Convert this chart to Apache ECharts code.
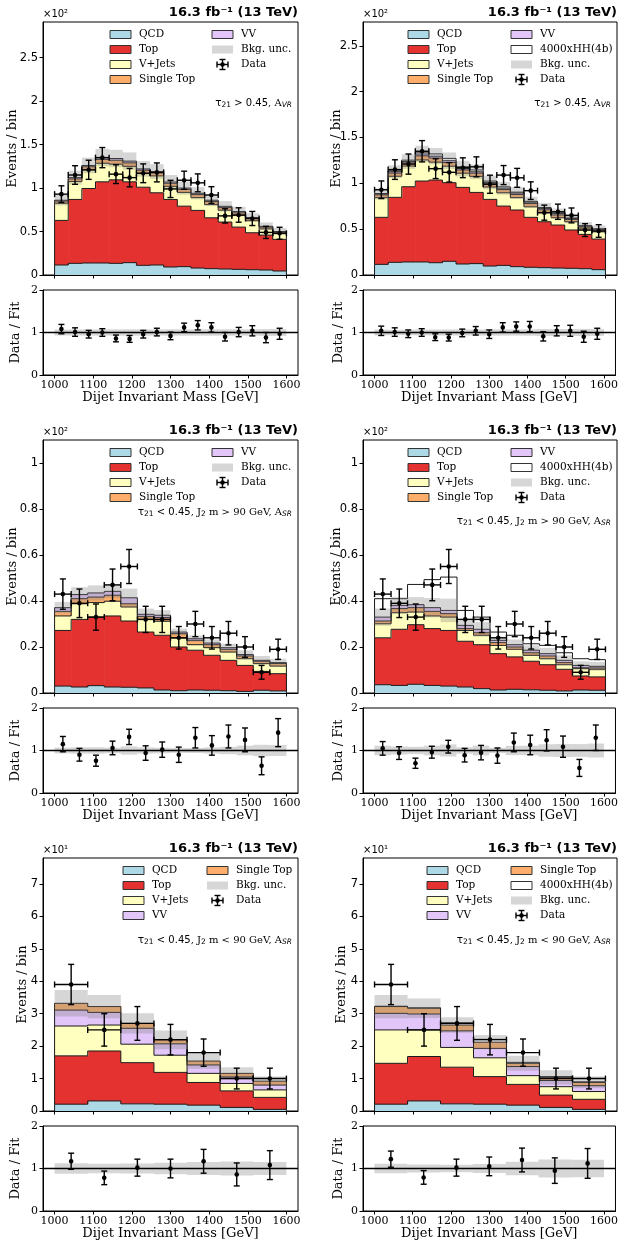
<!DOCTYPE html>
<html>
<head>
<meta charset="utf-8">
<script src="https://cdn.jsdelivr.net/npm/echarts@6.0.0/dist/echarts.min.js"></script>
<style>
  html, body { margin: 0; padding: 0; background: #ffffff; }
  #chart { width: 621px; height: 1245px; }
</style>
</head>
<body>
<div id="chart"></div>
<script>
// ---------------------------------------------------------------------------
// Binning and tick values
// ---------------------------------------------------------------------------
const massRange = [1000, 1600];
const massTicks = [1000, 1100, 1200, 1300, 1400, 1500, 1600];
const ratioTicks = [0, 1, 2];
const vrYTicks = [0, 50, 100, 150, 200, 250];
const srHighYTicks = [0, 20, 40, 60, 80, 100];
const srLowYTicks = [0, 10, 20, 30, 40, 50, 60, 70];

// ---------------------------------------------------------------------------
// Observed data (events per bin) and statistical errors
// ---------------------------------------------------------------------------
const vrData    = [93, 115, 121, 135, 116, 112, 117, 118, 99, 109, 106, 92, 68, 69, 65, 49, 48];
const vrDataErr = [9.6, 10.7, 11.0, 11.6, 10.8, 10.6, 10.8, 10.9, 9.9, 10.4, 10.3, 9.6, 8.2, 8.3, 8.1, 7.0, 6.9];
const srHighData    = [43, 39, 33, 47, 55, 32, 32, 24, 30, 24, 26, 20, 9, 19];
const srHighDataErr = [6.6, 6.2, 5.7, 6.9, 7.4, 5.7, 5.7, 4.9, 5.5, 4.9, 5.1, 4.5, 3.0, 4.4];
const srLowData    = [39, 25, 27, 22, 18, 10, 10];
const srLowDataErr = [6.2, 5.0, 5.2, 4.7, 4.2, 3.2, 3.2];

// ---------------------------------------------------------------------------
// Validation region, tau21 > 0.45 : background-only fit
// ---------------------------------------------------------------------------
const vrQcd       = [11.5, 13.4, 13.8, 13.8, 13.4, 14.2, 11.1, 11.5, 9.2, 9.6, 8.0, 7.3, 6.9, 6.5, 6.1, 5.7, 4.6];
const vrTop       = [51.3, 73.5, 85.7, 93.4, 96.1, 93.0, 89.9, 83.1, 77.7, 69.6, 66.3, 58.5, 54.0, 48.6, 42.5, 40.2, 36.4];
const vrVJets     = [19.7, 20.6, 21.5, 21.3, 18.0, 17.8, 16.0, 19.4, 15.1, 15.8, 14.7, 15.2, 13.6, 13.4, 13.9, 7.1, 6.8];
const vrSingleTop = [2.5, 3.0, 3.5, 4.5, 4.5, 4.0, 3.5, 3.5, 3.5, 3.5, 3.5, 3.5, 3.0, 3.0, 2.5, 2.0, 1.5];
const vrVV        = [1.0, 1.5, 1.5, 2.0, 2.0, 2.0, 1.5, 1.5, 1.5, 1.5, 1.5, 1.5, 1.5, 1.5, 1.0, 1.0, 0.7];
const vrUnc       = [6.0, 8.0, 9.0, 10.0, 10.0, 10.0, 9.0, 8.5, 8.0, 7.5, 7.0, 6.5, 6.0, 5.5, 5.0, 4.5, 4.0];
const vrRatio     = [1.08, 1.01, 0.96, 1.00, 0.86, 0.85, 0.96, 1.01, 0.92, 1.12, 1.17, 1.12, 0.90, 1.01, 1.04, 0.88, 0.97];
const vrRatioErr  = [0.11, 0.10, 0.09, 0.09, 0.08, 0.08, 0.09, 0.09, 0.09, 0.10, 0.11, 0.11, 0.10, 0.11, 0.12, 0.12, 0.13];

// Validation region : signal + background fit
const vrSbQcd       = [11.6, 13.8, 14.2, 14.2, 13.4, 14.9, 12.0, 12.4, 9.8, 10.5, 9.1, 8.4, 8.0, 7.6, 7.3, 6.9, 5.8];
const vrSbTop       = [51.3, 70.9, 82.1, 88.3, 90.2, 85.8, 83.6, 77.7, 72.7, 64.7, 61.8, 54.5, 50.1, 46.9, 41.8, 37.4, 33.4];
const vrSbVJets     = [21.5, 23.0, 22.5, 23.0, 19.5, 18.0, 15.5, 17.5, 13.5, 14.5, 13.5, 11.5, 10.0, 8.0, 9.0, 6.0, 8.0];
const vrSbSingleTop = [3.0, 3.5, 3.5, 4.5, 4.5, 4.0, 3.5, 3.5, 3.5, 3.5, 3.5, 3.5, 3.0, 3.0, 2.5, 2.0, 2.0];
const vrSbVV        = [1.0, 1.5, 1.5, 2.0, 2.0, 2.0, 1.5, 1.5, 1.5, 1.5, 1.5, 1.5, 1.5, 1.5, 1.0, 1.0, 0.8];
const vrSbSignal    = [0.5, 1.0, 1.5, 2.0, 2.5, 2.5, 2.0, 2.0, 1.5, 1.5, 1.0, 1.0, 1.0, 0.8, 0.6, 0.5, 0.4];
const vrSbUnc       = [6.0, 7.0, 8.0, 9.0, 9.0, 9.0, 8.5, 8.0, 7.5, 7.0, 6.5, 6.0, 6.0, 5.5, 5.0, 4.5, 4.0];
const vrSbRatio     = [1.04, 1.01, 0.97, 1.00, 0.89, 0.88, 0.99, 1.04, 0.96, 1.12, 1.14, 1.14, 0.91, 1.04, 1.04, 0.90, 0.97];
const vrSbRatioErr  = [0.11, 0.10, 0.09, 0.09, 0.08, 0.08, 0.09, 0.10, 0.10, 0.11, 0.11, 0.12, 0.11, 0.12, 0.13, 0.13, 0.13];

// ---------------------------------------------------------------------------
// Signal region, tau21 < 0.45, J2 m > 90 GeV : background-only fit
// ---------------------------------------------------------------------------
const srHighQcd       = [3.0, 2.6, 3.2, 2.6, 2.5, 2.2, 1.3, 1.0, 1.3, 1.2, 1.0, 0.7, 1.2, 0.9];
const srHighTop       = [24.2, 29.4, 29.8, 30.9, 28.8, 24.3, 23.8, 19.0, 17.3, 15.2, 13.2, 11.3, 8.2, 7.5];
const srHighVJets     = [6.3, 6.8, 6.3, 6.4, 6.1, 5.5, 6.1, 3.9, 2.4, 3.3, 3.6, 2.9, 3.4, 3.3];
const srHighSingleTop = [2.0, 2.2, 2.4, 2.6, 1.4, 1.3, 1.6, 1.9, 1.9, 1.3, 1.2, 1.2, 1.0, 1.1];
const srHighVV        = [1.6, 1.8, 1.8, 1.7, 2.6, 0.9, 1.0, 0.7, 0.7, 0.7, 0.7, 0.6, 0.4, 0.4];
const srHighUnc       = [2.5, 3.2, 3.3, 2.9, 4.0, 2.5, 2.2, 1.5, 1.4, 1.6, 1.7, 1.9, 1.9, 1.7];
const srHighRatio     = [1.15, 0.90, 0.76, 1.06, 1.32, 0.94, 1.02, 0.90, 1.30, 1.12, 1.33, 1.25, 0.64, 1.42];
const srHighRatioErr  = [0.18, 0.15, 0.13, 0.16, 0.18, 0.17, 0.18, 0.18, 0.24, 0.23, 0.27, 0.28, 0.21, 0.33];

// Signal region (J2 m > 90 GeV) : signal + background fit
const srHighSbQcd       = [3.6, 3.3, 3.8, 3.3, 3.0, 2.6, 1.9, 1.3, 1.6, 1.4, 1.2, 0.9, 1.3, 1.2];
const srHighSbTop       = [20.4, 24.4, 25.9, 24.7, 24.2, 19.9, 19.1, 15.8, 14.1, 12.4, 11.1, 9.4, 6.1, 5.8];
const srHighSbVJets     = [6.1, 7.2, 5.5, 5.5, 5.8, 4.7, 4.1, 3.6, 3.3, 2.6, 2.6, 2.0, 3.2, 3.3];
const srHighSbSingleTop = [1.2, 1.8, 1.9, 2.0, 1.5, 0.8, 1.1, 1.2, 1.0, 1.1, 1.2, 0.9, 0.4, 0.6];
const srHighSbVV        = [1.7, 1.4, 1.3, 1.6, 1.4, 1.4, 1.5, 1.0, 1.0, 1.1, 1.0, 1.0, 1.0, 0.7];
const srHighSbSignal    = [8.0, 2.9, 8.8, 12.2, 14.5, 6.5, 5.3, 3.6, 4.1, 2.8, 3.6, 3.3, 2.9, 2.9];
const srHighSbUnc       = [3.7, 3.6, 3.3, 4.2, 5.1, 2.2, 3.2, 1.4, 2.3, 2.1, 2.5, 2.2, 1.8, 1.9];
const srHighSbRatio     = [1.05, 0.94, 0.70, 0.96, 1.09, 0.89, 0.95, 0.88, 1.19, 1.13, 1.24, 1.09, 0.59, 1.30];
const srHighSbRatioErr  = [0.16, 0.15, 0.12, 0.14, 0.15, 0.16, 0.17, 0.18, 0.22, 0.23, 0.25, 0.25, 0.20, 0.30];

// ---------------------------------------------------------------------------
// Signal region, tau21 < 0.45, J2 m < 90 GeV : background-only fit
// ---------------------------------------------------------------------------
const srLowQcd       = [2.1, 3.1, 2.2, 2.1, 1.8, 1.1, 0.5];
const srLowTop       = [14.9, 15.4, 12.7, 9.8, 7.0, 5.1, 3.7];
const srLowVJets     = [9.2, 8.0, 5.7, 5.3, 2.8, 2.3, 2.3];
const srLowVV        = [4.9, 3.9, 4.9, 3.5, 2.6, 2.0, 1.5];
const srLowSingleTop = [2.1, 1.8, 1.5, 1.2, 1.2, 1.1, 1.2];
const srLowUnc       = [4.1, 3.6, 3.1, 2.9, 2.4, 1.9, 1.4];
const srLowRatio     = [1.17, 0.78, 1.02, 1.00, 1.17, 0.86, 1.08];
const srLowRatioErr  = [0.19, 0.16, 0.20, 0.22, 0.28, 0.27, 0.34];

// Signal region (J2 m < 90 GeV) : signal + background fit
const srLowSbQcd       = [2.1, 3.1, 2.2, 2.1, 1.8, 1.1, 0.5];
const srLowSbTop       = [12.6, 13.7, 11.3, 8.5, 6.4, 3.8, 3.1];
const srLowSbVJets     = [10.3, 8.2, 6.1, 5.8, 2.7, 2.6, 2.4];
const srLowSbVV        = [5.1, 4.9, 5.1, 2.9, 2.8, 1.9, 1.8];
const srLowSbSingleTop = [2.1, 1.8, 1.8, 1.9, 1.0, 1.0, 1.0];
const srLowSbSignal    = [0.1, 0.1, 0.7, 0.9, 0.3, 0.2, 0.2];
const srLowSbUnc       = [3.6, 3.0, 2.4, 2.2, 2.3, 2.2, 1.8];
const srLowSbRatio     = [1.22, 0.79, 1.02, 1.05, 1.20, 0.95, 1.12];
const srLowSbRatioErr  = [0.19, 0.16, 0.20, 0.22, 0.28, 0.30, 0.35];

// ---------------------------------------------------------------------------
// Styling
// ---------------------------------------------------------------------------
const SERIF = 'DejaVu Serif';
const SANS = 'DejaVu Sans';
const EDGE = '#1a1a1a';
const COLORS = {
  qcd: '#add8e6',
  top: '#e33230',
  vjets: '#ffffbf',
  singleTop: '#fdae6b',
  vv: '#e2c6fa',
  signal: '#ffffff',
  unc: 'rgba(128,128,128,0.32)'
};
const LABELS = {
  qcd: 'QCD', top: 'Top', vjets: 'V+Jets', singleTop: 'Single Top', vv: 'VV',
  signal: '4000xHH(4b)', unc: 'Bkg. unc.', data: 'Data'
};

const layout = {
  colLeft: [43, 363],
  colWidth: [255, 254],
  rowTop: [22, 440, 858],
  mainHeight: 253,
  ratioGap: 15,
  ratioHeight: 85,
  xMin: 970,
  xMax: 1630
};

const REGION_TEXT = {
  vr:     { op: ' > 0.45', rest: [[', A', 0]], sub: 'VR' },
  srHigh: { op: ' < 0.45', rest: [[', J', 0], ['2', 1], [' m > 90 GeV, A', 0]], sub: 'SR' },
  srLow:  { op: ' < 0.45', rest: [[', J', 0], ['2', 1], [' m < 90 GeV, A', 0]], sub: 'SR' }
};

const panels = [
  { row: 0, col: 0, yMax: 291, yTicks: vrYTicks, yScale: 100, exp: '2', region: 'vr', regionDy: 81,
    layers: [['qcd', vrQcd], ['top', vrTop], ['vjets', vrVJets], ['singleTop', vrSingleTop], ['vv', vrVV]],
    signal: null, unc: vrUnc, data: vrData, dataErr: vrDataErr, ratio: vrRatio, ratioErr: vrRatioErr,
    legend: { x: [67, 169], cols: [['qcd', 'top', 'vjets', 'singleTop'], ['vv', 'unc', 'data']] },
    yNameGap: 24, rNameGap: 21 },
  { row: 0, col: 1, yMax: 276, yTicks: vrYTicks, yScale: 100, exp: '2', region: 'vr', regionDy: 81,
    layers: [['qcd', vrSbQcd], ['top', vrSbTop], ['vjets', vrSbVJets], ['singleTop', vrSbSingleTop], ['vv', vrSbVV]],
    signal: vrSbSignal, unc: vrSbUnc, data: vrData, dataErr: vrDataErr, ratio: vrSbRatio, ratioErr: vrSbRatioErr,
    legend: { x: [45, 148], cols: [['qcd', 'top', 'vjets', 'singleTop'], ['vv', 'signal', 'unc', 'data']] },
    yNameGap: 20, rNameGap: 18 },
  { row: 1, col: 0, yMax: 110, yTicks: srHighYTicks, yScale: 100, exp: '2', region: 'srHigh', regionDy: 72,
    layers: [['qcd', srHighQcd], ['top', srHighTop], ['vjets', srHighVJets], ['singleTop', srHighSingleTop], ['vv', srHighVV]],
    signal: null, unc: srHighUnc, data: srHighData, dataErr: srHighDataErr, ratio: srHighRatio, ratioErr: srHighRatioErr,
    legend: { x: [67, 169], cols: [['qcd', 'top', 'vjets', 'singleTop'], ['vv', 'unc', 'data']] },
    yNameGap: 24, rNameGap: 21 },
  { row: 1, col: 1, yMax: 110, yTicks: srHighYTicks, yScale: 100, exp: '2', region: 'srHigh', regionDy: 81,
    layers: [['qcd', srHighSbQcd], ['top', srHighSbTop], ['vjets', srHighSbVJets], ['singleTop', srHighSbSingleTop], ['vv', srHighSbVV]],
    signal: srHighSbSignal, unc: srHighSbUnc, data: srHighData, dataErr: srHighDataErr, ratio: srHighSbRatio, ratioErr: srHighSbRatioErr,
    legend: { x: [45, 148], cols: [['qcd', 'top', 'vjets', 'singleTop'], ['vv', 'signal', 'unc', 'data']] },
    yNameGap: 20, rNameGap: 18 },
  { row: 2, col: 0, yMax: 78, yTicks: srLowYTicks, yScale: 10, exp: '1', region: 'srLow', regionDy: 82,
    layers: [['qcd', srLowQcd], ['top', srLowTop], ['vjets', srLowVJets], ['vv', srLowVV], ['singleTop', srLowSingleTop]],
    signal: null, unc: srLowUnc, data: srLowData, dataErr: srLowDataErr, ratio: srLowRatio, ratioErr: srLowRatioErr,
    legend: { x: [80, 164], cols: [['qcd', 'top', 'vjets', 'vv'], ['singleTop', 'unc', 'data']] },
    yNameGap: 14, rNameGap: 21 },
  { row: 2, col: 1, yMax: 78, yTicks: srLowYTicks, yScale: 10, exp: '1', region: 'srLow', regionDy: 82,
    layers: [['qcd', srLowSbQcd], ['top', srLowSbTop], ['vjets', srLowSbVJets], ['vv', srLowSbVV], ['singleTop', srLowSbSingleTop]],
    signal: srLowSbSignal, unc: srLowSbUnc, data: srLowData, dataErr: srLowDataErr, ratio: srLowSbRatio, ratioErr: srLowSbRatioErr,
    legend: { x: [64, 148], cols: [['qcd', 'top', 'vjets', 'vv'], ['singleTop', 'signal', 'unc', 'data']] },
    yNameGap: 15, rNameGap: 18 }
];

// ---------------------------------------------------------------------------
// Helpers
// ---------------------------------------------------------------------------
function binEdges(n) {
  const w = (massRange[1] - massRange[0]) / n;
  const e = [];
  for (let i = 0; i <= n; i++) e.push(massRange[0] + i * w);
  return e;
}
const fmtNum = v => String(parseFloat(v.toFixed(2)));

const measureCtx = document.createElement('canvas').getContext('2d');
function fontString(p) {
  return (p.style || 'normal') + ' ' + (p.weight || 'normal') + ' ' + p.size + 'px "' + p.family + '"';
}
function textWidth(p) {
  measureCtx.font = fontString(p);
  return measureCtx.measureText(p.t).width;
}
function textEl(x, y, p, align) {
  return {
    type: 'text', x: x, y: y + (p.dy || 0), z: 100, silent: true,
    style: {
      text: p.t, fill: '#000', fontSize: p.size, fontFamily: p.family,
      fontWeight: p.weight || 'normal', fontStyle: p.style || 'normal',
      align: align || 'left', textAlign: align || 'left',
      verticalAlign: 'middle', textVerticalAlign: 'middle'
    }
  };
}
// Places a sequence of text runs so that the run ends at xRight.
function runs(parts, xRight, yMid) {
  const widths = parts.map(textWidth);
  let x = xRight - widths.reduce((a, b) => a + b, 0);
  return parts.map((p, i) => { const el = textEl(x, yMid, p); x += widths[i]; return el; });
}

// Stack layer: filled step histogram between lo and hi.
function fillRenderer(color) {
  return function (params, api) {
    const a = api.coord([api.value(0), api.value(3)]);
    const b = api.coord([api.value(1), api.value(2)]);
    return {
      type: 'rect',
      shape: { x: a[0], y: a[1], width: b[0] - a[0] + 0.6, height: b[1] - a[1] },
      style: { fill: color }
    };
  };
}
// Step outline on the top of a layer (with the outer vertical edges).
function outlineRenderer(params, api) {
  const x0 = api.value(0), x1 = api.value(1), lo = api.value(2), hi = api.value(3);
  const prev = api.value(4), last = api.value(5);
  const pts = [api.coord([x0, prev]), api.coord([x0, hi]), api.coord([x1, hi])];
  if (last) pts.push(api.coord([x1, lo]));
  return { type: 'polyline', shape: { points: pts }, style: { stroke: EDGE, lineWidth: 1, fill: null } };
}
// Plain rectangle between bin edges (uncertainty band).
function bandRenderer(params, api) {
  const a = api.coord([api.value(0), api.value(3)]);
  const b = api.coord([api.value(1), api.value(2)]);
  return {
    type: 'rect',
    shape: { x: a[0], y: a[1], width: b[0] - a[0], height: b[1] - a[1] },
    style: { fill: COLORS.unc }
  };
}
// Data point with error bars and caps.
function pointRenderer(params, api) {
  const x = api.value(0), y = api.value(1), ex = api.value(2), ey = api.value(3);
  const c = api.coord([x, y]);
  const t = api.coord([x, y + ey]);
  const b = api.coord([x, y - ey]);
  const st = { stroke: '#000', lineWidth: 1.4 };
  const cap = 3;
  const kids = [
    { type: 'line', shape: { x1: c[0], y1: t[1], x2: c[0], y2: b[1] }, style: st },
    { type: 'line', shape: { x1: c[0] - cap, y1: t[1], x2: c[0] + cap, y2: t[1] }, style: st },
    { type: 'line', shape: { x1: c[0] - cap, y1: b[1], x2: c[0] + cap, y2: b[1] }, style: st }
  ];
  if (ex > 0) {
    const l = api.coord([x - ex, y]), r = api.coord([x + ex, y]);
    kids.push(
      { type: 'line', shape: { x1: l[0], y1: c[1], x2: r[0], y2: c[1] }, style: st },
      { type: 'line', shape: { x1: l[0], y1: c[1] - cap, x2: l[0], y2: c[1] + cap }, style: st },
      { type: 'line', shape: { x1: r[0], y1: c[1] - cap, x2: r[0], y2: c[1] + cap }, style: st }
    );
  }
  kids.push({ type: 'circle', shape: { cx: c[0], cy: c[1], r: 2.3 }, style: { fill: '#000' } });
  return { type: 'group', children: kids };
}
// Horizontal reference line at ratio = 1 across the full axis.
function unityRenderer(params, api) {
  const a = api.coord([api.value(0), api.value(2)]);
  const b = api.coord([api.value(1), api.value(2)]);
  return { type: 'line', shape: { x1: a[0], y1: a[1], x2: b[0], y2: b[1] }, style: { stroke: '#000', lineWidth: 1.3 } };
}

// ---------------------------------------------------------------------------
// Option assembly
// ---------------------------------------------------------------------------
const option = {
  animation: false,
  backgroundColor: '#ffffff',
  grid: [], xAxis: [], yAxis: [], series: [],
  graphic: { elements: [] }
};
const G = option.graphic.elements;

function xAxisDef(gi, showLabels) {
  return {
    gridIndex: gi, type: 'value', min: layout.xMin, max: layout.xMax, z: 10,
    name: showLabels ? 'Dijet Invariant Mass [GeV]' : '',
    nameLocation: 'middle', nameGap: 16, nameMoveOverlap: false,
    nameTextStyle: { fontFamily: SERIF, fontSize: 13, color: '#000' },
    axisLine: { show: true, onZero: false, lineStyle: { color: '#000', width: 1 } },
    axisTick: { show: true, inside: false, length: 3.5, customValues: massTicks, lineStyle: { color: '#000', width: 1 } },
    axisLabel: { show: showLabels, customValues: massTicks, formatter: v => String(v), fontFamily: SERIF, fontSize: 11, color: '#000', margin: 5 },
    splitLine: { show: false }
  };
}

function addLayer(gi, name, fill, edges, lo, hi) {
  const n = lo.length;
  const items = lo.map((b, i) => [edges[i], edges[i + 1], b, hi[i], i === 0 ? b : hi[i - 1], i === n - 1 ? 1 : 0]);
  option.series.push({
    type: 'custom', name: name, xAxisIndex: gi, yAxisIndex: gi, z: 2, clip: true, silent: true,
    encode: { x: [0, 1], y: [2, 3] }, data: items, renderItem: fillRenderer(fill)
  });
  option.series.push({
    type: 'custom', name: name + ' edge', xAxisIndex: gi, yAxisIndex: gi, z: 3, clip: true, silent: true,
    encode: { x: [0, 1], y: [2, 3] }, data: items, renderItem: outlineRenderer
  });
}

function legendHandle(kind, x, y) {
  const w = 21, h = 8;
  if (kind === 'data') {
    const cx = x + w / 2, st = { stroke: '#000', lineWidth: 1.4 };
    return [
      { type: 'line', z: 100, silent: true, shape: { x1: cx - 5.5, y1: y, x2: cx + 5.5, y2: y }, style: st },
      { type: 'line', z: 100, silent: true, shape: { x1: cx - 5.5, y1: y - 3, x2: cx - 5.5, y2: y + 3 }, style: st },
      { type: 'line', z: 100, silent: true, shape: { x1: cx + 5.5, y1: y - 3, x2: cx + 5.5, y2: y + 3 }, style: st },
      { type: 'line', z: 100, silent: true, shape: { x1: cx, y1: y - 5, x2: cx, y2: y + 5 }, style: st },
      { type: 'line', z: 100, silent: true, shape: { x1: cx - 3, y1: y - 5, x2: cx + 3, y2: y - 5 }, style: st },
      { type: 'line', z: 100, silent: true, shape: { x1: cx - 3, y1: y + 5, x2: cx + 3, y2: y + 5 }, style: st },
      { type: 'circle', z: 100, silent: true, shape: { cx: cx, cy: y, r: 2.3 }, style: { fill: '#000' } }
    ];
  }
  if (kind === 'unc') {
    return [{ type: 'rect', z: 100, silent: true, shape: { x: x, y: y - h / 2, width: w, height: h }, style: { fill: COLORS.unc } }];
  }
  return [{ type: 'rect', z: 100, silent: true, shape: { x: x, y: y - h / 2, width: w, height: h },
            style: { fill: COLORS[kind], stroke: '#333', lineWidth: 1 } }];
}

panels.forEach((p, k) => {
  const left = layout.colLeft[p.col], width = layout.colWidth[p.col];
  const top = layout.rowTop[p.row];
  const rTop = top + layout.mainHeight + layout.ratioGap;
  const gMain = 2 * k, gRatio = 2 * k + 1;
  const n = p.data.length;
  const edges = binEdges(n);

  option.grid.push({ left: left, top: top, width: width, height: layout.mainHeight, show: true, borderColor: '#000', borderWidth: 1 });
  option.grid.push({ left: left, top: rTop, width: width, height: layout.ratioHeight, show: true, borderColor: '#000', borderWidth: 1 });

  option.xAxis.push(xAxisDef(gMain, false), xAxisDef(gRatio, true));
  option.yAxis.push({
    gridIndex: gMain, type: 'value', min: 0, max: p.yMax, z: 10,
    name: 'Events / bin', nameLocation: 'middle', nameGap: p.yNameGap, nameMoveOverlap: false,
    nameTextStyle: { fontFamily: SERIF, fontSize: 13, color: '#000' },
    axisLine: { show: true, onZero: false, lineStyle: { color: '#000', width: 1 } },
    axisTick: { show: true, inside: false, length: 3.5, customValues: p.yTicks, lineStyle: { color: '#000', width: 1 } },
    axisLabel: { customValues: p.yTicks, formatter: v => fmtNum(v / p.yScale), fontFamily: SANS, fontSize: 11.5, color: '#000', margin: 5 },
    splitLine: { show: false }
  }, {
    gridIndex: gRatio, type: 'value', min: 0, max: 2, z: 10,
    name: 'Data / Fit', nameLocation: 'middle', nameGap: p.rNameGap, nameMoveOverlap: false,
    nameTextStyle: { fontFamily: SERIF, fontSize: 13, color: '#000' },
    axisLine: { show: true, onZero: false, lineStyle: { color: '#000', width: 1 } },
    axisTick: { show: true, inside: false, length: 3.5, customValues: ratioTicks, lineStyle: { color: '#000', width: 1 } },
    axisLabel: { customValues: ratioTicks, formatter: v => String(v), fontFamily: SERIF, fontSize: 11, color: '#000', margin: 5 },
    splitLine: { show: false }
  });

  // Stacked backgrounds
  let lower = new Array(n).fill(0);
  p.layers.forEach(([key, vals]) => {
    const upper = lower.map((b, i) => b + vals[i]);
    addLayer(gMain, LABELS[key], COLORS[key], edges, lower, upper);
    lower = upper;
  });
  const bkgTotal = lower;

  // Scaled signal on top of the background
  if (p.signal) {
    const upper = bkgTotal.map((b, i) => b + p.signal[i]);
    addLayer(gMain, LABELS.signal, COLORS.signal, edges, bkgTotal, upper);
  }

  // Background uncertainty band
  option.series.push({
    type: 'custom', name: LABELS.unc, xAxisIndex: gMain, yAxisIndex: gMain, z: 4, clip: true, silent: true,
    encode: { x: [0, 1], y: [2, 3] },
    data: bkgTotal.map((t, i) => [edges[i], edges[i + 1], t - p.unc[i], t + p.unc[i]]),
    renderItem: bandRenderer
  });

  // Data points
  option.series.push({
    type: 'custom', name: LABELS.data, xAxisIndex: gMain, yAxisIndex: gMain, z: 6, clip: false, silent: true,
    encode: { x: 0, y: 1 },
    data: p.data.map((v, i) => [(edges[i] + edges[i + 1]) / 2, v, (edges[i + 1] - edges[i]) / 2, p.dataErr[i]]),
    renderItem: pointRenderer
  });

  // Ratio panel
  option.series.push({
    type: 'custom', name: 'Fit unc.', xAxisIndex: gRatio, yAxisIndex: gRatio, z: 4, clip: true, silent: true,
    encode: { x: [0, 1], y: [2, 3] },
    data: bkgTotal.map((t, i) => [edges[i], edges[i + 1], 1 - p.unc[i] / t, 1 + p.unc[i] / t]),
    renderItem: bandRenderer
  });
  option.series.push({
    type: 'custom', name: 'Unity', xAxisIndex: gRatio, yAxisIndex: gRatio, z: 5, clip: true, silent: true,
    encode: { x: [0, 1], y: 2 },
    data: [[layout.xMin, layout.xMax, 1]],
    renderItem: unityRenderer
  });
  option.series.push({
    type: 'custom', name: 'Data / Fit', xAxisIndex: gRatio, yAxisIndex: gRatio, z: 6, clip: false, silent: true,
    encode: { x: 0, y: 1 },
    data: p.ratio.map((v, i) => [(edges[i] + edges[i + 1]) / 2, v, 0, p.ratioErr[i]]),
    renderItem: pointRenderer
  });

  // Header: luminosity label and axis multiplier
  const right = left + width;
  G.push(textEl(right, top - 9, { t: '16.3 fb\u207B\u00B9 (13 TeV)', size: 13, family: SANS, weight: 'bold' }, 'right'));
  G.push(textEl(left, top - 8, { t: '\u00D710' + (p.exp === '2' ? '\u00B2' : '\u00B9'), size: 10, family: SANS }, 'left'));

  // Region label
  const rt = REGION_TEXT[p.region];
  const parts = [
    { t: '\u03C4', size: 10.5, family: SANS },
    { t: '21', size: 7.5, family: SANS, dy: 2.5 },
    { t: rt.op, size: 10, family: SANS }
  ];
  rt.rest.forEach(([s, isSub]) => parts.push(isSub ? { t: s, size: 7.5, family: SANS, dy: 2.5 } : { t: s, size: 10, family: SERIF }));
  parts.push({ t: rt.sub, size: 7.5, family: SANS, style: 'italic', dy: 2.5 });
  runs(parts, right - 6, top + p.regionDy).forEach(el => G.push(el));

  // Legend
  p.legend.cols.forEach((col, ci) => {
    col.forEach((kind, ri) => {
      const hx = left + p.legend.x[ci];
      const hy = top + 12.5 + 15 * ri;
      legendHandle(kind, hx, hy).forEach(el => G.push(el));
      G.push(textEl(hx + 29, hy, { t: LABELS[kind], size: 10.5, family: SERIF }, 'left'));
    });
  });
});

const chart = echarts.init(document.getElementById('chart'), null, { renderer: 'canvas', width: 621, height: 1245 });
chart.setOption(option);
</script>
</body>
</html>
